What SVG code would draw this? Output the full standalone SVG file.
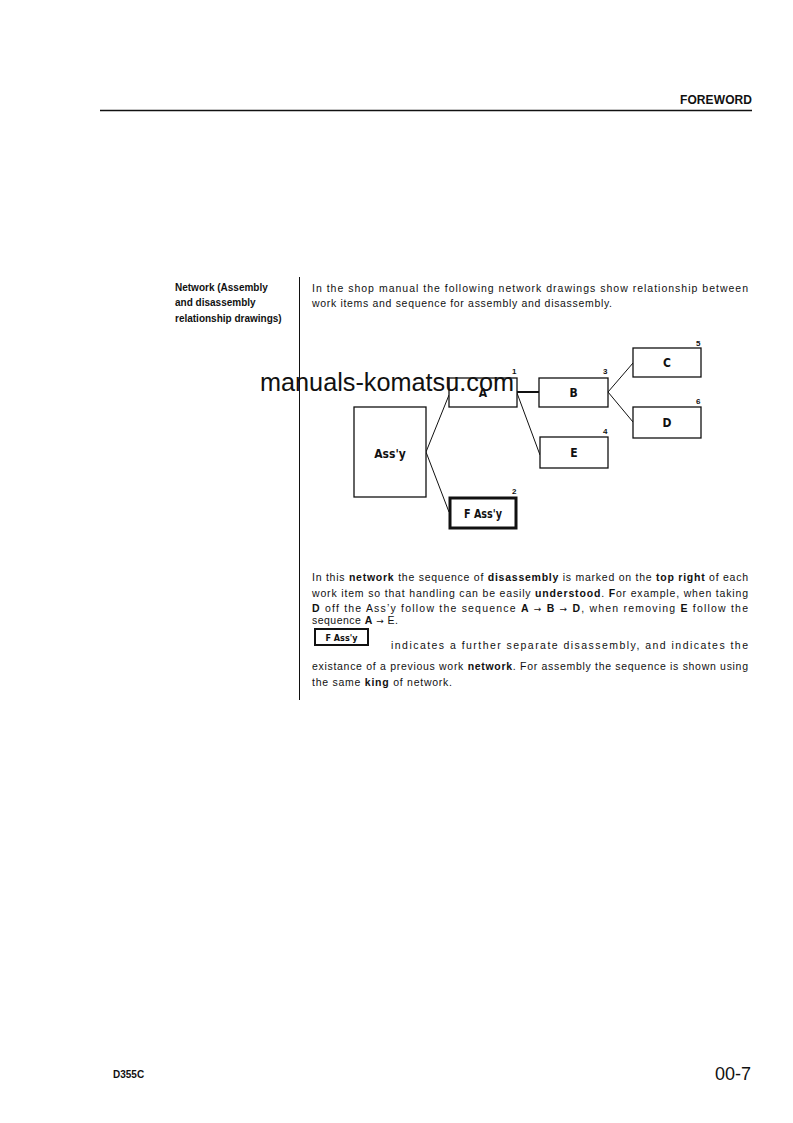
<svg xmlns="http://www.w3.org/2000/svg" width="793" height="1123" viewBox="0 0 793 1123">
<style>
.t{font-family:"Liberation Sans",Arial,sans-serif;font-size:10.5px;fill:#111}
.b{font-weight:bold}
.ar{font-family:"DejaVu Sans",sans-serif;font-size:9px}
.lbl{font-family:"DejaVu Sans Condensed","Liberation Sans",sans-serif;font-weight:bold;font-size:12px;fill:#111;text-anchor:middle}
.num{font-family:"Liberation Sans",sans-serif;font-weight:bold;font-size:8px;fill:#111}
.box{fill:#fff;stroke:#111;stroke-width:1.3}
.thick{fill:#fff;stroke:#111;stroke-width:3}
.conn line{stroke:#111;stroke-width:1}
</style>
<rect width="793" height="1123" fill="#fff"/>
<!-- header -->
<text x="752" y="104" class="t b" style="font-size:12px" text-anchor="end" textLength="72" lengthAdjust="spacing">FOREWORD</text>
<line x1="100" y1="110.5" x2="752" y2="110.5" stroke="#111" stroke-width="1.5"/>
<!-- left column -->
<text x="175" y="291" class="t b" style="font-size:10px">Network (Assembly</text>
<text x="175" y="306" class="t b" style="font-size:10px">and disassembly</text>
<text x="175" y="322" class="t b" style="font-size:10px">relationship drawings)</text>
<line x1="299.5" y1="277" x2="299.5" y2="700" stroke="#111" stroke-width="1"/>
<!-- intro text -->
<text x="312" y="292" class="t" textLength="436" lengthAdjust="spacing">In the shop manual the following network drawings show relationship between</text>
<text x="312" y="307" class="t" textLength="300" lengthAdjust="spacing">work items and sequence for assembly and disassembly.</text>
<!-- connectors -->
<g id="connectors" class="conn">
<line x1="426" y1="452" x2="449" y2="395"/>
<line x1="426" y1="452" x2="449" y2="512"/>
<line x1="517" y1="392" x2="539" y2="392" style="stroke-width:2"/>
<line x1="517" y1="393" x2="540" y2="455"/>
<line x1="608" y1="392" x2="633" y2="363"/>
<line x1="608" y1="392" x2="633" y2="422"/>
</g>
<!-- nodes -->
<g id="assy"><rect x="354" y="407" width="72" height="90" class="box"/><text x="390" y="458" class="lbl">Ass'y</text></g>
<g id="nodeA"><rect x="449" y="378" width="68" height="29" class="box"/><text x="483" y="397" class="lbl">A</text><text x="512" y="374" class="num">1</text></g>
<g id="nodeB"><rect x="539" y="378" width="69" height="29" class="box"/><text x="573.5" y="397" class="lbl">B</text><text x="603" y="374" class="num">3</text></g>
<g id="nodeC"><rect x="633" y="348" width="68" height="29" class="box"/><text x="667" y="367" class="lbl">C</text><text x="696" y="346" class="num">5</text></g>
<g id="nodeD"><rect x="633" y="407" width="68" height="31" class="box"/><text x="667" y="427" class="lbl">D</text><text x="696" y="404" class="num">6</text></g>
<g id="nodeE"><rect x="540" y="437" width="68" height="31" class="box"/><text x="574" y="457" class="lbl">E</text><text x="603" y="434" class="num">4</text></g>
<g id="nodeF"><rect x="450" y="498" width="66" height="30" class="thick"/><text x="483" y="518" class="lbl" textLength="38" lengthAdjust="spacingAndGlyphs">F Ass'y</text><text x="512" y="494" class="num">2</text></g>
<!-- watermark -->
<text x="260" y="391" font-family="Liberation Sans,Arial,sans-serif" font-size="25" fill="#111" textLength="254" lengthAdjust="spacingAndGlyphs">manuals-komatsu.com</text>
<!-- explanation -->
<text x="312" y="581" class="t" textLength="436" lengthAdjust="spacing">In this <tspan class="b">network</tspan> the sequence of <tspan class="b">disassembly</tspan> is marked on the <tspan class="b">top right</tspan> of each</text>
<text x="312" y="597" class="t" textLength="436" lengthAdjust="spacing">work item so that handling can be easily <tspan class="b">understood</tspan>. <tspan class="b">F</tspan>or example, when taking</text>
<text x="312" y="612" class="t" textLength="436" lengthAdjust="spacing"><tspan class="b">D</tspan> off the Ass’y follow the sequence <tspan class="b">A</tspan> <tspan class="ar">→</tspan> <tspan class="b">B</tspan> <tspan class="ar">→</tspan> <tspan class="b">D</tspan>, when removing <tspan class="b">E</tspan> follow the</text>
<text x="312" y="624" class="t" textLength="86" lengthAdjust="spacing">sequence <tspan class="b">A</tspan> <tspan class="ar">→</tspan> E.</text>
<g id="smallF"><rect x="315" y="629" width="53" height="16" fill="#fff" stroke="#111" stroke-width="2"/><text x="341.5" y="641" class="lbl" style="font-size:9px">F Ass'y</text></g>
<text x="391" y="649" class="t" textLength="357" lengthAdjust="spacing">indicates a further separate disassembly, and indicates the</text>
<text x="312" y="670" class="t" textLength="436" lengthAdjust="spacing">existance of a previous work <tspan class="b">network</tspan>. For assembly the sequence is shown using</text>
<text x="312" y="686" class="t" textLength="140" lengthAdjust="spacing">the same <tspan class="b">king</tspan> of network.</text>
<!-- footer -->
<text x="113" y="1078" class="t b" style="font-size:10px">D355C</text>
<text x="751" y="1080" class="t" style="font-size:18px" text-anchor="end">00-7</text>
</svg>
